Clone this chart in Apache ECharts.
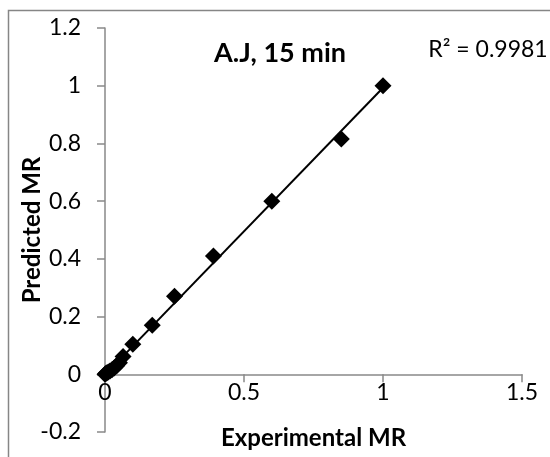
<!DOCTYPE html>
<html>
<head>
<meta charset="utf-8">
<script src="https://cdn.jsdelivr.net/npm/echarts@6/dist/echarts.min.js"></script>
<style>
  html, body { margin: 0; padding: 0; background: #fff; }
  #chart { width: 550px; height: 457px; }
</style>
</head>
<body>
<div id="chart"></div>
<script>
// Moisture ratio: experimental vs. model-predicted values
const experimentalMR = [1, 0.85, 0.6, 0.39, 0.25, 0.17, 0.1, 0.065, 0.052, 0.042, 0.033, 0.025, 0.018, 0.012, 0.007, 0.003, 0];
const predictedMR    = [1, 0.815, 0.6, 0.41, 0.27, 0.17, 0.104, 0.062, 0.04, 0.03, 0.022, 0.016, 0.011, 0.008, 0.005, 0.003, 0];

const chartTitle = 'A.J, 15 min';
const r2Text = 'R² = 0.9981';
const xTicks = [0, 0.5, 1, 1.5];
const yTicks = [-0.2, 0, 0.2, 0.4, 0.6, 0.8, 1, 1.2];

// Least-squares line through the points
function linearFit(xs, ys) {
  const n = xs.length;
  let sx = 0, sy = 0, sxx = 0, sxy = 0;
  for (let i = 0; i < n; i++) {
    sx += xs[i]; sy += ys[i];
    sxx += xs[i] * xs[i]; sxy += xs[i] * ys[i];
  }
  const slope = (n * sxy - sx * sy) / (n * sxx - sx * sx);
  const intercept = (sy - slope * sx) / n;
  return { slope, intercept };
}
const fit = linearFit(experimentalMR, predictedMR);
const xMin = Math.min(...experimentalMR), xMax = Math.max(...experimentalMR);
const trend = [
  [xMin, fit.intercept + fit.slope * xMin],
  [xMax, fit.intercept + fit.slope * xMax]
];

const FONT = 'Lato';
const axisGray = '#898989';

const W = 550, H = 457;
const grid = { left: 105, right: 28, top: 28, bottom: 25 };
const yMin = yTicks[0], yMax = yTicks[yTicks.length - 1];
// Lift the x axis (line, ticks, labels, name) up to the y = 0 level
const plotH = H - grid.top - grid.bottom;
const xAxisLift = plotH * (0 - yMin) / (yMax - yMin);

const chart = echarts.init(document.getElementById('chart'), null, { renderer: 'canvas' });
chart.setOption({
  animation: false,
  backgroundColor: '#fff',
  grid: Object.assign({ containLabel: false, outerBoundsMode: 'none' }, grid),
  xAxis: {
    type: 'value',
    min: xTicks[0], max: xTicks[xTicks.length - 1], interval: 0.5,
    offset: -xAxisLift,
    name: 'Experimental MR',
    nameLocation: 'middle',
    nameGap: 52,
    nameMoveOverlap: false,
    nameTextStyle: { fontFamily: FONT, fontWeight: 'bold', fontSize: 24, color: '#000' },
    axisLine: { onZero: false, lineStyle: { color: axisGray, width: 1.5 } },
    axisTick: { show: true, inside: false, length: 8, lineStyle: { color: axisGray, width: 1.5 } },
    axisLabel: { fontFamily: FONT, fontSize: 23, color: '#000', margin: 7 },
    splitLine: { show: false }
  },
  yAxis: {
    type: 'value',
    min: yMin, max: yMax, interval: 0.2,
    name: 'Predicted MR',
    nameLocation: 'middle',
    nameGap: 61,
    nameMoveOverlap: false,
    nameTextStyle: { fontFamily: FONT, fontWeight: 'bold', fontSize: 24, color: '#000' },
    axisLine: { show: true, onZero: false, lineStyle: { color: axisGray, width: 1.5 } },
    axisTick: { show: true, inside: false, length: 8, lineStyle: { color: axisGray, width: 1.5 } },
    axisLabel: {
      fontFamily: FONT, fontSize: 23, color: '#000', margin: 24,
      formatter: v => String(Math.round(v * 10) / 10)
    },
    splitLine: { show: false }
  },
  graphic: [
    {
      type: 'rect', silent: true, z: -1,
      shape: { x: 8.5, y: 10.5, width: 700, height: 600 },
      style: { fill: 'none', stroke: '#868686', lineWidth: 1.5 }
    },
    {
      type: 'text', x: 280, y: 53,
      style: {
        text: chartTitle, fontFamily: FONT, fontWeight: 'bold', fontSize: 27,
        fill: '#000', textAlign: 'center', textVerticalAlign: 'middle'
      }
    },
    {
      type: 'text', x: 488, y: 50,
      style: {
        text: r2Text, fontFamily: FONT, fontSize: 23,
        fill: '#000', textAlign: 'center', textVerticalAlign: 'middle'
      }
    }
  ],
  series: [
    {
      type: 'line',
      data: trend,
      symbol: 'none',
      lineStyle: { color: '#000', width: 2 },
      z: 2
    },
    {
      type: 'scatter',
      data: experimentalMR.map((x, i) => [x, predictedMR[i]]),
      symbol: 'diamond',
      symbolSize: 17,
      itemStyle: { color: '#000', opacity: 1 },
      z: 3
    }
  ]
});
</script>
</body>
</html>
